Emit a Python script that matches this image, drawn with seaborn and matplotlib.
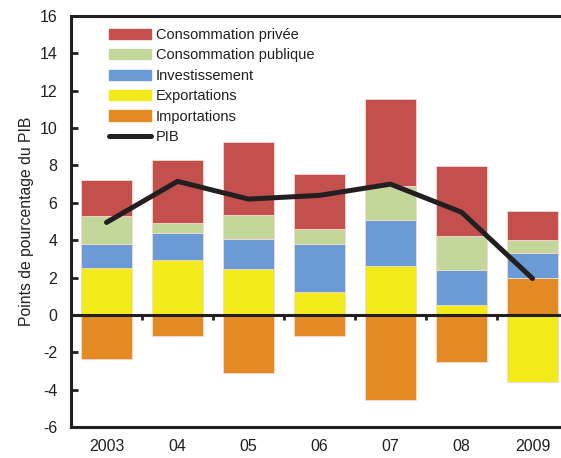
import numpy as np
import matplotlib
matplotlib.use('Agg')
import matplotlib.pyplot as plt
import matplotlib.patches as mpatches
from matplotlib.lines import Line2D
import seaborn as sns

# ── Data (points de pourcentage du PIB) ───────────────────────────────────────
years        = ['2003', '04', '05', '06', '07', '08', '2009']
conso_privee = [1.9, 3.4, 3.9, 2.95, 4.65, 3.75, 1.55]
conso_pub    = [1.5, 0.5, 1.3, 0.8, 1.8, 1.8, 0.7]
investiss    = [1.3, 1.45, 1.6, 2.55, 2.5, 1.85, 1.3]
exportations = [2.5, 2.95, 2.45, 1.25, 2.6, 0.55, -3.6]
importations = [-2.35, -1.15, -3.1, -1.15, -4.55, -2.5, 2.0]
pib          = [4.95, 7.15, 6.2, 6.4, 7.0, 5.5, 1.95]

# ── Style ─────────────────────────────────────────────────────────────────────
sns.set_style('white')
plt.rcParams['font.family'] = ['Liberation Sans', 'DejaVu Sans']
RED    = '#C4504D'
GREEN  = '#C4D79B'
BLUE   = '#6A9BD4'
YELLOW = '#F2EA19'
ORANGE = '#E38A25'
INK    = '#231F20'

fig = plt.figure(figsize=(5.61, 4.58), dpi=100)
ax = fig.add_axes([0.1266, 0.0677, 0.8859, 0.8973])

# stack order: exports / imports first, then investment, public, private
series = [
    (exportations, YELLOW),
    (importations, ORANGE),
    (investiss,    BLUE),
    (conso_pub,    GREEN),
    (conso_privee, RED),
]
pos_base = np.zeros(len(years))
neg_base = np.zeros(len(years))
for vals, color in series:
    vals = np.array(vals, dtype=float)
    bottom = np.where(vals >= 0, pos_base, neg_base)
    sns.barplot(x=years, y=vals, bottom=bottom, color=color, width=0.72,
                saturation=1, edgecolor='#f6d9d0', linewidth=0.6, ax=ax)
    pos_base += np.clip(vals, 0, None)
    neg_base += np.clip(vals, None, 0)

sns.lineplot(x=np.arange(len(years)), y=pib, color=INK, lw=3.6,
             sort=False, solid_capstyle='round', ax=ax, zorder=5)

# zero line with small marks between years
ax.axhline(0, color=INK, lw=2.2, zorder=6)
for xb in np.arange(len(years) - 1) + 0.5:
    ax.plot([xb, xb], [0, -0.28], color=INK, lw=2, zorder=6,
            solid_capstyle='butt')

ax.set_xlim(-0.5, len(years) - 0.5)
ax.set_ylim(-6, 16)
ax.set_yticks(np.arange(-6, 17, 2))
ax.set_yticklabels([str(v) for v in range(-6, 17, 2)])
ax.tick_params(axis='y', direction='in', length=5, width=2, color=INK,
               labelsize=11.5, pad=10, left=True, labelcolor=INK)
ax.tick_params(axis='x', length=0, labelsize=11.5, pad=9, labelcolor=INK)
for s in ['left', 'bottom', 'top']:
    ax.spines[s].set_linewidth(2.2)
    ax.spines[s].set_color(INK)
ax.spines['right'].set_visible(False)
ax.set_xlabel('')
ax.set_ylabel('Points de pourcentage du PIB', fontsize=11.3, labelpad=4,
              color=INK)

handles = [
    mpatches.Patch(color=RED,    label='Consommation privée'),
    mpatches.Patch(color=GREEN,  label='Consommation publique'),
    mpatches.Patch(color=BLUE,   label='Investissement'),
    mpatches.Patch(color=YELLOW, label='Exportations'),
    mpatches.Patch(color=ORANGE, label='Importations'),
    Line2D([0], [0], color=INK, lw=3.6, label='PIB'),
]
leg = ax.legend(handles=handles, loc='upper left',
                bbox_to_anchor=(0.065, 0.985), frameon=False, fontsize=10.5,
                handlelength=2.9, handleheight=0.7, handletextpad=0.3,
                labelspacing=0.44, borderaxespad=0)
for t in leg.get_texts():
    t.set_color(INK)

fig.savefig('out.png', dpi=100)
